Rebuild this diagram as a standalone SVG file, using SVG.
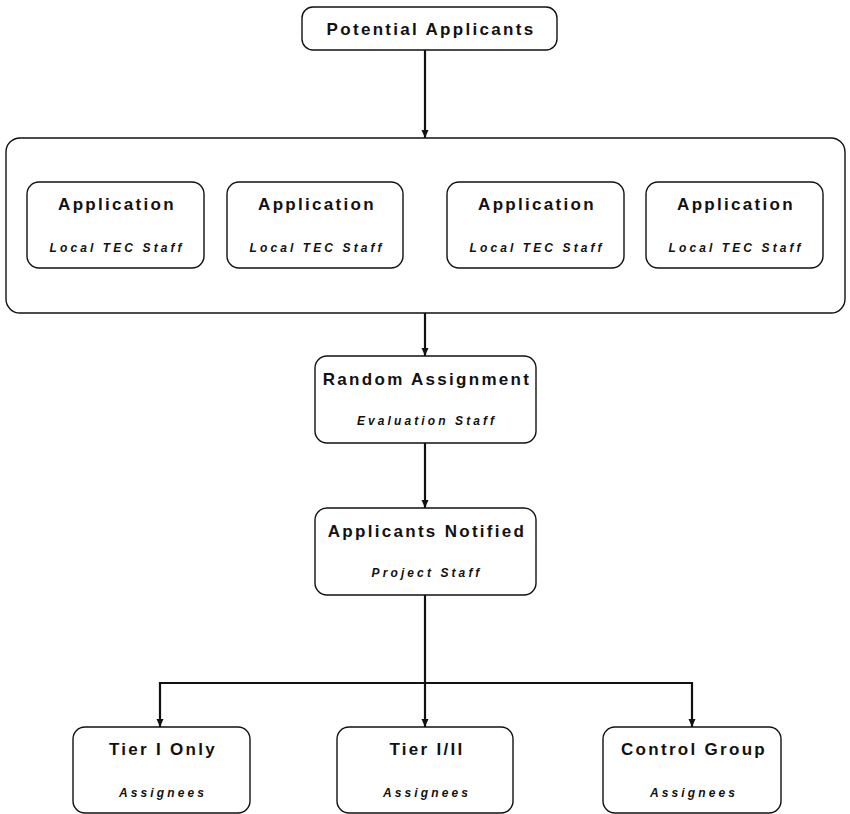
<svg xmlns="http://www.w3.org/2000/svg" width="850" height="814" viewBox="0 0 850 814">
<style>
.box{fill:#fff;stroke:#111;stroke-width:1.4}
.t{font-family:"Liberation Sans",Arial,sans-serif;font-weight:bold;font-size:17px;letter-spacing:2.3px;text-anchor:middle;fill:#111}
.s{font-family:"Liberation Sans",Arial,sans-serif;font-weight:bold;font-style:italic;font-size:12px;letter-spacing:3.1px;text-anchor:middle;fill:#111}
.c{fill:none;stroke:#111;stroke-width:2.2}
</style>
<defs>
<marker id="ah" markerUnits="userSpaceOnUse" markerWidth="8" markerHeight="8" refX="8" refY="3.5" orient="auto">
<path d="M0,0 L8,3.5 L0,7 z" fill="#111"/>
</marker>
</defs>
<rect width="850" height="814" fill="#fff"/>
<g id="connectors">
<path class="c" d="M425,50 V138" marker-end="url(#ah)"/>
<path class="c" d="M425,313 V356" marker-end="url(#ah)"/>
<path class="c" d="M425,443 V508" marker-end="url(#ah)"/>
<path class="c" d="M425,595 V727" marker-end="url(#ah)"/>
<path class="c" d="M160,683 H692"/>
<path class="c" d="M160,682 V727" marker-end="url(#ah)"/>
<path class="c" d="M692,682 V727" marker-end="url(#ah)"/>
</g>
<g id="potential-applicants">
<rect class="box" x="302" y="7" width="255" height="43" rx="11"/>
<text class="t" x="431" y="35">Potential Applicants</text>
</g>
<g id="application-group">
<rect class="box" x="6" y="138" width="839" height="175" rx="14"/>
</g>
<g id="application-1">
<rect class="box" x="27" y="182" width="177" height="86" rx="12"/>
<text class="t" x="117" y="210">Application</text>
<text class="s" x="117" y="252">Local TEC Staff</text>
</g>
<g id="application-2">
<rect class="box" x="227" y="182" width="176" height="86" rx="12"/>
<text class="t" x="317" y="210">Application</text>
<text class="s" x="317" y="252">Local TEC Staff</text>
</g>
<g id="application-3">
<rect class="box" x="447" y="182" width="177" height="86" rx="12"/>
<text class="t" x="537" y="210">Application</text>
<text class="s" x="537" y="252">Local TEC Staff</text>
</g>
<g id="application-4">
<rect class="box" x="646" y="182" width="177" height="86" rx="12"/>
<text class="t" x="736" y="210">Application</text>
<text class="s" x="736" y="252">Local TEC Staff</text>
</g>
<g id="random-assignment">
<rect class="box" x="315" y="356" width="221" height="87" rx="12"/>
<text class="t" x="427" y="385">Random Assignment</text>
<text class="s" x="427" y="425">Evaluation Staff</text>
</g>
<g id="applicants-notified">
<rect class="box" x="315" y="508" width="221" height="87" rx="12"/>
<text class="t" x="427" y="537">Applicants Notified</text>
<text class="s" x="427" y="577">Project Staff</text>
</g>
<g id="tier-1-only">
<rect class="box" x="73" y="727" width="177" height="86" rx="12"/>
<text class="t" x="163" y="755">Tier I Only</text>
<text class="s" x="163" y="797">Assignees</text>
</g>
<g id="tier-1-2">
<rect class="box" x="337" y="727" width="176" height="86" rx="12"/>
<text class="t" x="427" y="755">Tier I/II</text>
<text class="s" x="427" y="797">Assignees</text>
</g>
<g id="control-group">
<rect class="box" x="603" y="727" width="178" height="86" rx="12"/>
<text class="t" x="694" y="755">Control Group</text>
<text class="s" x="694" y="797">Assignees</text>
</g>
</svg>
